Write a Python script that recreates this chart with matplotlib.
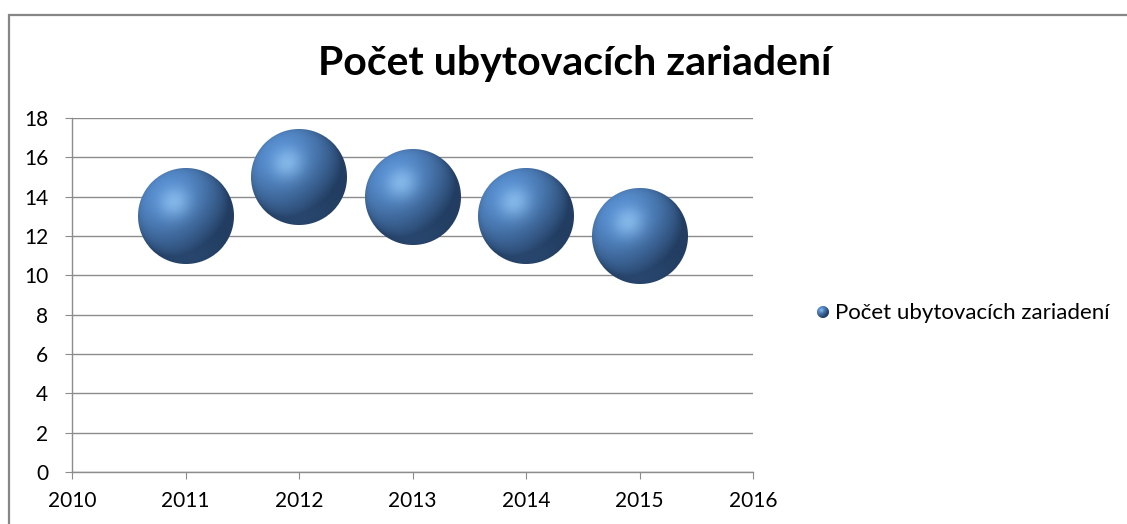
import numpy as np
import matplotlib
matplotlib.use("Agg")
import matplotlib.pyplot as plt
from matplotlib.offsetbox import OffsetImage, AnnotationBbox
from matplotlib.patches import Rectangle

years = [2011, 2012, 2013, 2014, 2015]
counts = [13, 15, 14, 13, 12]
title = "Počet ubytovacích zariadení"
series_name = "Počet ubytovacích zariadení"

plt.rcParams['font.family'] = ['Lato', 'DejaVu Sans']


def sphere(n, base=(79, 129, 189)):
    # shaded ball texture, RGBA, n x n pixels
    c = (np.arange(n) + 0.5) / n * 2 - 1
    u, v = np.meshgrid(c, c)
    r2 = u ** 2 + v ** 2
    z = np.sqrt(np.clip(1 - r2, 0, 1))
    nx, ny, nz = u, -v, z
    L = np.array([-0.45, 0.55, 0.7])
    L = L / np.linalg.norm(L)
    diff = np.clip(nx * L[0] + ny * L[1] + nz * L[2], 0, 1)
    H = L + np.array([0, 0, 1.0])
    H = H / np.linalg.norm(H)
    spec = np.clip(nx * H[0] + ny * H[1] + nz * H[2], 0, 1) ** 18
    # soft reflected light at bottom
    refl = np.clip(-ny, 0, 1) ** 3 * np.clip(nz, 0, 1) * 0.3
    base = np.array(base) / 255.0
    dark = np.array([15, 32, 58]) / 255.0
    light = np.array([150, 200, 245]) / 255.0
    shade = 0.3 + 0.85 * diff + refl
    rgb = dark[None, None, :] + (base - dark)[None, None, :] * shade[..., None]
    rgb = rgb + (light - rgb) * (spec[..., None] * 0.7)
    rgb = np.clip(rgb, 0, 1)
    r = np.sqrt(r2)
    alpha = np.clip((1 - r) * n / 2 + 0.5, 0, 1)
    return np.dstack([rgb, alpha])


W, H = 1127, 524
fig = plt.figure(figsize=(W / 100, H / 100), dpi=100)
fig.patch.set_facecolor('white')
fig.patches.append(Rectangle((9 / W, -0.1), 1.2, 1 - 15 / H + 0.1,
                             transform=fig.transFigure, fill=False,
                             edgecolor='#868686', linewidth=1.6))

ax = fig.add_axes([72 / W, 1 - 472 / H, (753 - 72) / W, (472 - 118) / H])
ax.set_xlim(2010, 2016)
ax.set_ylim(0, 18)
ax.set_xticks(range(2010, 2017))
ax.set_yticks(range(0, 19, 2))
ax.grid(axis='y', color='#8c8c8c', linewidth=1.0)
ax.set_axisbelow(True)
for s in ['top', 'right']:
    ax.spines[s].set_visible(False)
for s in ['left', 'bottom']:
    ax.spines[s].set_color('#8c8c8c')
    ax.spines[s].set_linewidth(1.0)
ax.tick_params(axis='both', colors='#8c8c8c', labelcolor='black',
               labelsize=15, length=5, direction='out')
ax.tick_params(axis='y', pad=12)
ax.tick_params(axis='x', pad=9)

ball = sphere(96)
for x, y in zip(years, counts):
    im = OffsetImage(ball, zoom=1, dpi_cor=False)
    ab = AnnotationBbox(im, (x, y), frameon=False, pad=0, zorder=3)
    ax.add_artist(ab)

fig.text(575 / W, 1 - 64 / H, title, ha='center', va='center',
         fontsize=29.5, fontweight='bold')

small = sphere(12)
ab = AnnotationBbox(OffsetImage(small, zoom=1, dpi_cor=False),
                    (823 / W, 1 - 312 / H), xycoords='figure fraction',
                    frameon=False, pad=0)
fig.add_artist(ab)
fig.text(835 / W, 1 - 313 / H, series_name, ha='left', va='center',
         fontsize=16)

fig.savefig('out.png', dpi=100)
